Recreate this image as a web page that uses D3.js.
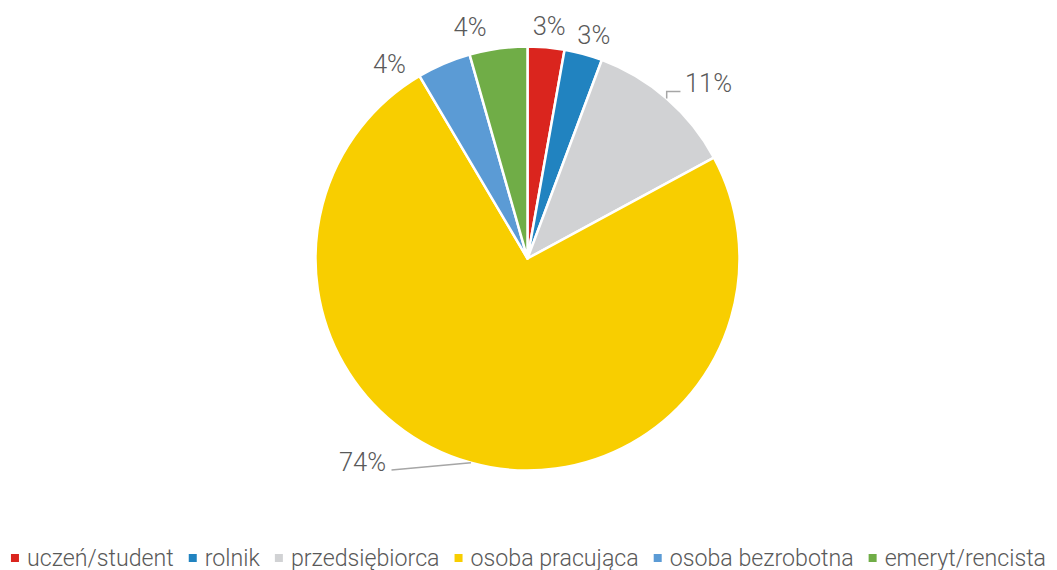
<!DOCTYPE html>
<html>
<head>
<meta charset="utf-8">
<script src="https://cdn.jsdelivr.net/npm/d3@7"></script>
<style>
  html, body { margin: 0; padding: 0; background: #ffffff; }
  svg { display: block; }
  text { font-family: Roboto, "Liberation Sans", sans-serif; font-weight: 300; fill: #595959; }
</style>
</head>
<body>
<svg id="chart" width="1057" height="570"></svg>
<script>
// ---- data ----
const categories = ["uczeń/student", "rolnik", "przedsiębiorca", "osoba pracująca", "osoba bezrobotna", "emeryt/rencista"];
const values = [2.8, 2.9, 11.4, 74.4, 4.1, 4.4];
const labels = ["3%", "3%", "11%", "74%", "4%", "4%"];
const colors = ["#DA251E", "#2183C0", "#D1D2D4", "#F8CE00", "#5B9BD5", "#70AD47"];

// ---- layout / style ----
const W = 1057, H = 570;
const cx = 527.5, cy = 258.5, R = 212;
const labelR = 236;
const labelOffsets = [[1, 3], [4, 4], [26, 2], [-102, -24], [-45, 22], [-25, 2]];
const leaderLabels = { 2: [-28, 9], 3: [29, 8] };

const svg = d3.select("#chart");
const g = svg.append("g").attr("transform", `translate(${cx},${cy})`);

const data = categories.map((c, i) => ({ name: c, value: values[i], label: labels[i], color: colors[i], i }));
const pie = d3.pie().value(d => d.value).sort(null);
const arcs = pie(data);
const arc = d3.arc().innerRadius(0).outerRadius(R);
const labelArc = d3.arc().innerRadius(labelR).outerRadius(labelR);
const edgeArc = d3.arc().innerRadius(R).outerRadius(R);

g.selectAll("path.slice").data(arcs).enter().append("path")
  .attr("class", "slice")
  .attr("d", arc)
  .attr("fill", d => d.data.color)
  .attr("stroke", "#ffffff")
  .attr("stroke-width", 2.5)
  .attr("stroke-linejoin", "round");

// label positions
const labelPos = arcs.map((a, i) => {
  const c = labelArc.centroid(a);
  return [c[0] + labelOffsets[i][0], c[1] + labelOffsets[i][1]];
});

// leader lines
arcs.forEach((a, i) => {
  if (!leaderLabels[i]) return;
  const p0 = edgeArc.centroid(a);
  const lp = labelPos[i];
  const end = [lp[0] + leaderLabels[i][0], lp[1] + leaderLabels[i][1]];
  let pts;
  if (i === 2) pts = [p0, [p0[0], end[1]], end];
  else pts = [p0, end];
  g.append("path")
    .attr("d", d3.line()(pts))
    .attr("fill", "none")
    .attr("stroke", "#A6A6A6")
    .attr("stroke-width", 1.5);
});

g.selectAll("text.lbl").data(arcs).enter().append("text")
  .attr("class", "lbl")
  .attr("x", (d, i) => labelPos[i][0])
  .attr("y", (d, i) => labelPos[i][1])
  .attr("text-anchor", "middle")
  .attr("dominant-baseline", "central")
  .style("font-size", "25.5px")
  .text(d => d.data.label);

// legend
const legendY = 558;
const legend = svg.append("g");
const items = legend.selectAll("g.item").data(data).enter().append("g").attr("class", "item");
items.append("rect").attr("width", 8).attr("height", 8).attr("y", legendY - 4).attr("fill", d => d.color);
items.append("text").attr("x", 16).attr("y", legendY + 7.5).style("font-size", "23.2px").text(d => d.name);
let x = 0;
items.each(function (d) {
  const w = d3.select(this).select("text").node().getComputedTextLength();
  d3.select(this).attr("transform", `translate(${x},0)`);
  x += 16 + w + 15;
});
const total = x - 15;
legend.attr("transform", `translate(${(W - total) / 2},0)`);
</script>
</body>
</html>
